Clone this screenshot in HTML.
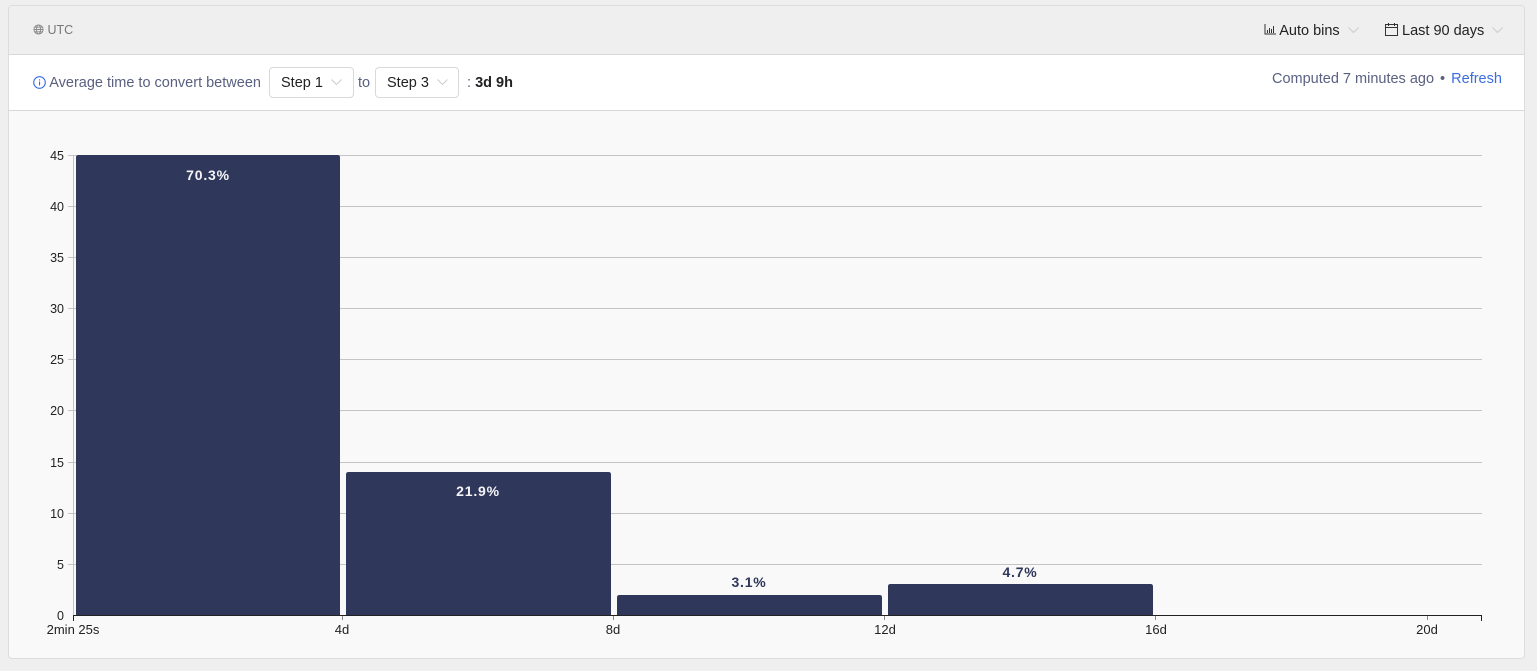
<!DOCTYPE html>
<html><head><meta charset="utf-8"><style>
html,body{margin:0;padding:0;width:1537px;height:671px;overflow:hidden;background:#efefef;font-family:"Liberation Sans",Arial,sans-serif;}
.card{position:absolute;left:8px;top:5px;width:1517px;height:654px;border:1px solid #dcdcdc;border-radius:4px;background:#f9f9f9;box-sizing:border-box;overflow:hidden;}
.hdr{position:absolute;left:0;top:0;width:100%;height:48px;background:#efefef;border-bottom:1px solid #d8d8d8;}
.row{position:absolute;left:0;top:49px;width:100%;height:55px;background:#fff;border-bottom:1px solid #d8d8d8;}
.t{position:absolute;white-space:nowrap;}
.dd{position:absolute;top:12px;height:31px;border:1px solid #d9d9d9;border-radius:4px;box-sizing:border-box;font-size:14.5px;color:#222;line-height:30px;padding-left:11px;background:#fff;}
.chev{display:inline-block;margin-left:8px;vertical-align:2px;}
</style></head><body>
<div class="card">
 <div class="hdr">
  <div class="t" style="left:24px;top:17px;font-size:12.5px;color:#777;">
   <svg width="11" height="11" viewBox="0 0 12 12" style="vertical-align:-1px"><circle cx="6" cy="6" r="5" fill="none" stroke="#888" stroke-width="1"/><ellipse cx="6" cy="6" rx="2.2" ry="5" fill="none" stroke="#888"/><line x1="1" y1="6" x2="11" y2="6" stroke="#888"/><line x1="2" y1="3.5" x2="10" y2="3.5" stroke="#888"/><line x1="2" y1="8.5" x2="10" y2="8.5" stroke="#888"/></svg> UTC</div>
  <div class="t" style="left:1255px;top:17px;font-size:14.5px;color:#222;">
   <svg width="12" height="11" viewBox="0 0 12 11" style="vertical-align:0"><path d="M1 0V10H12" fill="none" stroke="#333"/><rect x="3" y="6" width="1" height="3" fill="#333"/><rect x="5" y="4" width="1" height="5" fill="#333"/><rect x="7" y="5" width="1" height="4" fill="#333"/><rect x="9" y="2" width="1" height="7" fill="#333"/></svg> Auto bins<svg class="chev" width="11" height="6" viewBox="0 0 11 6"><path d="M0.5 0.5L5.5 5.5L10.5 0.5" fill="none" stroke="#ccc"/></svg></div>
  <div class="t" style="left:1376px;top:17px;font-size:14.5px;color:#222;">
   <svg width="13" height="13" viewBox="0 0 13 13" style="vertical-align:-1px"><rect x="0.5" y="1.5" width="12" height="11" fill="none" stroke="#333"/><line x1="0.5" y1="4.5" x2="12.5" y2="4.5" stroke="#333"/><line x1="3.5" y1="0" x2="3.5" y2="3" stroke="#333"/><line x1="9.5" y1="0" x2="9.5" y2="3" stroke="#333"/></svg> Last 90 days<svg class="chev" width="11" height="6" viewBox="0 0 11 6"><path d="M0.5 0.5L5.5 5.5L10.5 0.5" fill="none" stroke="#ccc"/></svg></div>
 </div>
 <div class="row">
  <div class="t" style="left:24px;top:20px;font-size:14.5px;color:#5a6080;">
   <svg width="13" height="13" viewBox="0 0 13 13" style="vertical-align:-2px"><circle cx="6.5" cy="6.5" r="5.8" fill="none" stroke="#3b6de0" stroke-width="1.1"/><rect x="6" y="5.5" width="1.1" height="4" fill="#3b6de0"/><rect x="6" y="3.3" width="1.1" height="1.2" fill="#3b6de0"/></svg> Average time to convert between</div>
  <div class="dd" style="left:260px;width:85px;">Step 1<svg class="chev" width="11" height="6" viewBox="0 0 11 6"><path d="M0.5 0.5L5.5 5.5L10.5 0.5" fill="none" stroke="#ccc"/></svg></div>
  <div class="t" style="left:349px;top:20px;font-size:14.5px;color:#5a6080;">to</div>
  <div class="dd" style="left:366px;width:84px;">Step 3<svg class="chev" width="11" height="6" viewBox="0 0 11 6"><path d="M0.5 0.5L5.5 5.5L10.5 0.5" fill="none" stroke="#ccc"/></svg></div>
  <div class="t" style="left:458px;top:20px;font-size:14.5px;color:#5a6080;">: <b style="color:#222">3d 9h</b></div>
  <div class="t" style="left:1263px;top:16px;font-size:14.5px;color:#5a6080;">Computed 7 minutes ago <span style="margin:0 2px">•</span> <span style="color:#3b6de0">Refresh</span></div>
 </div>
</div>
<svg width="1537" height="671" style="position:absolute;left:0;top:0" font-family="Liberation Sans, Arial, sans-serif">
 <g stroke="#c4c4c4" stroke-width="1">
  <line x1="68" y1="155.5" x2="1482" y2="155.5"/>
  <line x1="68" y1="206.5" x2="1482" y2="206.5"/>
  <line x1="68" y1="257.5" x2="1482" y2="257.5"/>
  <line x1="68" y1="308.5" x2="1482" y2="308.5"/>
  <line x1="68" y1="359.5" x2="1482" y2="359.5"/>
  <line x1="68" y1="410.5" x2="1482" y2="410.5"/>
  <line x1="68" y1="462.5" x2="1482" y2="462.5"/>
  <line x1="68" y1="513.5" x2="1482" y2="513.5"/>
  <line x1="68" y1="564.5" x2="1482" y2="564.5"/>
  <line x1="73.5" y1="155" x2="73.5" y2="615"/>
 </g>
 <g font-size="12.5" fill="#222" text-anchor="end">
  <text x="64" y="160">45</text><text x="64" y="211">40</text><text x="64" y="262">35</text><text x="64" y="313">30</text><text x="64" y="364">25</text><text x="64" y="415">20</text><text x="64" y="467">15</text><text x="64" y="518">10</text><text x="64" y="569">5</text><text x="64" y="620">0</text>
 </g>
 <g fill="#2f385b">
  <path d="M76 615V157.5Q76 155 78.5 155H337.5Q340 155 340 157.5V615Z"/>
  <path d="M346 615V474.5Q346 472 348.5 472H608.5Q611 472 611 474.5V615Z"/>
  <path d="M617 615V597.5Q617 595 619.5 595H879.5Q882 595 882 597.5V615Z"/>
  <path d="M888 615V586.5Q888 584 890.5 584H1150.5Q1153 584 1153 586.5V615Z"/>
 </g>
 <g font-size="14" font-weight="bold" text-anchor="middle" letter-spacing="0.8">
  <text x="208" y="180" fill="#f4f4f8">70.3%</text>
  <text x="478" y="496" fill="#f4f4f8">21.9%</text>
  <text x="749" y="587" fill="#2f385b">3.1%</text>
  <text x="1020" y="577" fill="#2f385b">4.7%</text>
 </g>
 <line x1="73" y1="615.5" x2="1482" y2="615.5" stroke="#222" stroke-width="1"/>
 <g stroke="#222"><line x1="73.5" y1="615" x2="73.5" y2="621"/><line x1="1481.5" y1="615" x2="1481.5" y2="621"/></g>
 <g stroke="#888"><line x1="342.5" y1="616" x2="342.5" y2="620"/><line x1="613.5" y1="616" x2="613.5" y2="620"/><line x1="884.5" y1="616" x2="884.5" y2="620"/><line x1="1155.5" y1="616" x2="1155.5" y2="620"/><line x1="1427.5" y1="616" x2="1427.5" y2="620"/></g>
 <g font-size="13" fill="#222" text-anchor="middle">
  <text x="73" y="634">2min 25s</text><text x="342" y="634">4d</text><text x="613" y="634">8d</text><text x="885" y="634">12d</text><text x="1156" y="634">16d</text><text x="1427" y="634">20d</text>
 </g>
</svg>
</body></html>
